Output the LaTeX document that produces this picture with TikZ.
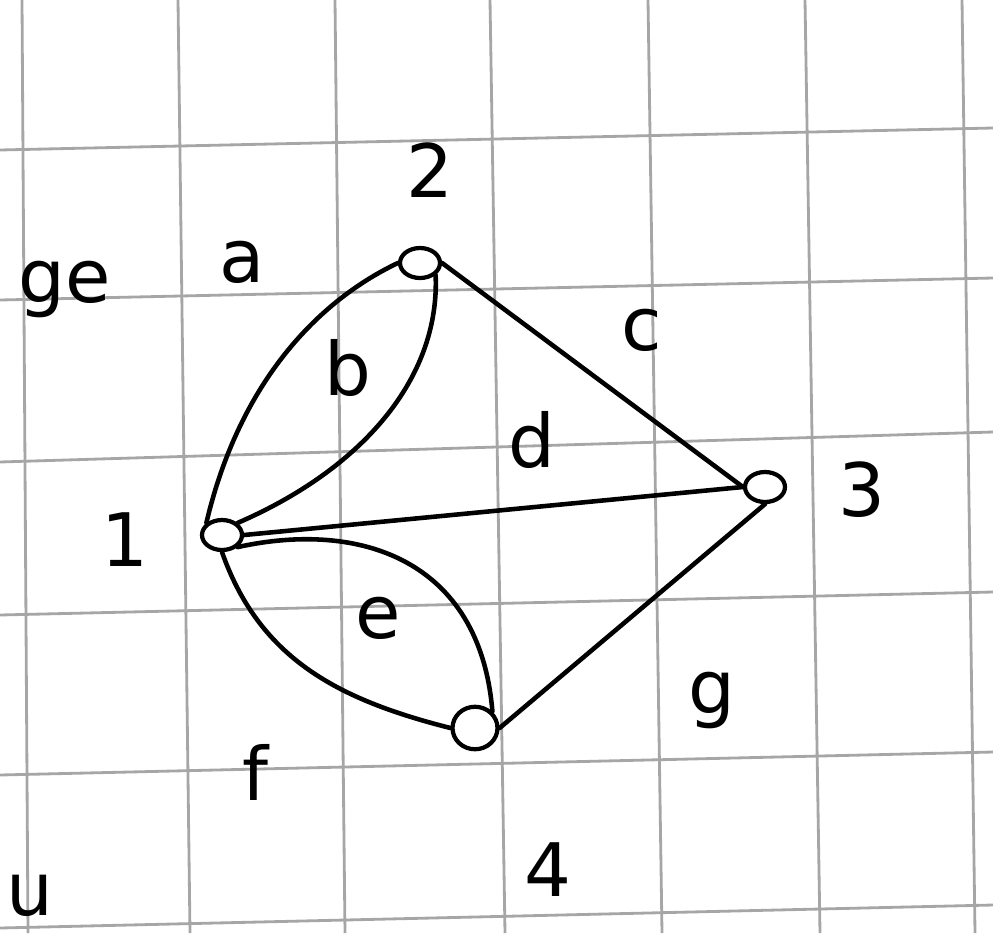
\documentclass[tikz,border=0pt]{standalone}
\usepackage{fontspec}
\setmainfont{DejaVu Sans}
\usetikzlibrary{positioning,shapes.geometric}

\begin{document}
\begin{tikzpicture}[
    x=0.02cm, y=-0.02cm,
    grd/.style={draw=gray!70, line width=1.6pt},
    vtx/.style={draw, ellipse, line width=2.4pt, minimum width=0.8cm, minimum height=0.6cm, inner sep=0pt},
    edg/.style={line width=2.6pt, line cap=round},
    lbl/.style={font=\fontsize{42}{42}\selectfont}
  ]
  \useasboundingbox (0,0) rectangle (993,933);
  % grid paper
  \foreach \x/\xx in {22/28,178/190,335/345,490/505,648/662,805/820,962/975}
    \draw[grd] (\x,0) -- (\xx,933);
  \foreach \y/\yy in {150/128,300/278,462/432,615/592,775/752,928/905}
    \draw[grd] (0,\y) -- (993,\yy);
  % vertices
  \node[vtx] (v1) at (222,535) {};
  \node[vtx] (v2) at (420,263) {};
  \node[vtx] (v3) at (765,487) {};
  \node[vtx, minimum width=0.9cm, minimum height=0.85cm] (v4) at (475,728) {};
  % edges
  \draw[edg] (v1.north west) .. controls (240,380) and (320,300) .. (v2.west);
  \draw[edg] (v2.south east) .. controls (440,380) and (360,470) .. (v1.north east);
  \draw[edg] (v2.east) -- (v3.west);
  \draw[edg] (v1.east) -- (v3.west);
  \draw[edg] (v1.south east) .. controls (360,520) and (480,560) .. (v4.north east);
  \draw[edg] (v1.south) .. controls (260,660) and (340,700) .. (v4.west);
  \draw[edg] (v3.south) -- (v4.east);
  % labels
  \node[lbl] (la) at (242,262) {a};
  \node[lbl] (lb) at (348,368) {b};
  \node[lbl] (lc) at (642,330) {c};
  \node[lbl] (ld) at (532,440) {d};
  \node[lbl] (le) at (378,618) {e};
  \node[lbl] (lf) at (255,772) {f};
  \node[lbl] (lg) at (712,700) {g};
  \node[lbl] (n1) at (125,540) {1};
  \node[lbl] (n2) at (430,170) {2};
  \node[lbl] (n3) at (862,490) {3};
  \node[lbl] (n4) at (548,870) {4};
  \node[lbl] (lge) at (65,290) {ge};
  \node[lbl] (lu) at (30,895) {u};
\end{tikzpicture}
\end{document}
